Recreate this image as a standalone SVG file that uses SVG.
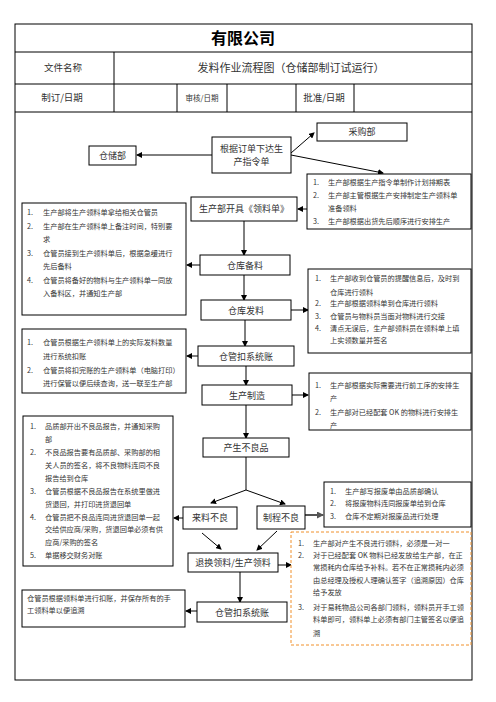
<svg xmlns="http://www.w3.org/2000/svg" width="496" height="702" viewBox="0 0 496 702">
<defs>
<marker id="ah" markerWidth="6" markerHeight="6" refX="5" refY="3" orient="auto" markerUnits="userSpaceOnUse"><path d="M0,0 L6,3 L0,6 Z" fill="#000"/></marker>
<marker id="ahg" markerWidth="7" markerHeight="7" refX="6" refY="3.5" orient="auto" markerUnits="userSpaceOnUse"><path d="M0,0 L7,3.5 L0,7 Z" fill="#555"/></marker>
<style>
text{font-family:"Noto Sans CJK SC","Noto Sans",sans-serif;fill:#333}
.b{fill:#fff;stroke:#000;stroke-width:1}
.n{font-size:9px;text-anchor:middle}
.t{font-size:7.2px}
.h{font-size:9.5px;text-anchor:middle}
.c{stroke:#000;stroke-width:1;fill:none;marker-end:url(#ah)}
</style>
</defs>
<rect width="496" height="702" fill="#fff"/>
<g id="frame">
<rect x="15" y="24" width="457" height="656" fill="none" stroke="#000" stroke-width="1"/>
<line x1="15" y1="52" x2="472" y2="52" stroke="#000"/>
<line x1="15" y1="84" x2="472" y2="84" stroke="#000"/>
<line x1="15" y1="112" x2="472" y2="112" stroke="#000"/>
<line x1="114" y1="52" x2="114" y2="112" stroke="#000"/>
<line x1="177" y1="84" x2="177" y2="112" stroke="#000"/>
<line x1="227" y1="84" x2="227" y2="112" stroke="#000"/>
<line x1="296" y1="84" x2="296" y2="112" stroke="#000"/>
<line x1="354" y1="84" x2="354" y2="112" stroke="#000"/>
<text x="243" y="44" style="font-size:16px;font-weight:bold;text-anchor:middle;fill:#000">有限公司</text>
<text x="63" y="71" class="h">文件名称</text>
<text x="291" y="72" style="font-size:11px;text-anchor:middle">发料作业流程图（仓储部制订试运行）</text>
<text x="62" y="101" class="h">制订/日期</text>
<text x="202" y="101" style="font-size:7.5px;text-anchor:middle">审核/日期</text>
<text x="324" y="101" class="h">批准/日期</text>
</g>
<g id="connectors">
<line x1="212" y1="155" x2="137" y2="155" class="c"/>
<line x1="291" y1="153" x2="314" y2="133" class="c"/>
<line x1="291" y1="155" x2="383" y2="173" class="c"/>
<line x1="307" y1="209" x2="298" y2="209" class="c"/>
<line x1="244" y1="221" x2="244" y2="255" class="c"/>
<line x1="200" y1="265" x2="187" y2="265" class="c"/>
<line x1="244" y1="275" x2="244" y2="300" class="c"/>
<line x1="291" y1="310" x2="308" y2="310" class="c"/>
<line x1="245" y1="320" x2="245" y2="346" class="c"/>
<line x1="198" y1="356" x2="187" y2="356" class="c"/>
<line x1="246" y1="366" x2="246" y2="385" class="c"/>
<line x1="292" y1="395" x2="308" y2="395" class="c"/>
<line x1="246" y1="405" x2="246" y2="438" class="c"/>
<line x1="246" y1="457" x2="246" y2="490" stroke="#000"/>
<line x1="246" y1="490" x2="211" y2="503" class="c"/>
<line x1="246" y1="490" x2="285" y2="504" class="c"/>
<line x1="183" y1="518" x2="174" y2="518" class="c"/>
<line x1="305" y1="515" x2="323" y2="515" stroke="#555" stroke-width="2" marker-end="url(#ahg)"/>
<line x1="202" y1="533" x2="221" y2="549" class="c"/>
<line x1="277" y1="531" x2="257" y2="550" class="c"/>
<line x1="278" y1="565" x2="291" y2="565" class="c"/>
<line x1="240" y1="572" x2="240" y2="602" class="c"/>
<line x1="197" y1="611" x2="186" y2="611" class="c"/>
</g>
<g id="n-cangchu"><rect x="89" y="146" width="47" height="19" class="b"/><text x="112.5" y="158.5" class="n">仓储部</text></g>
<g id="n-dingdan"><rect x="212" y="137" width="79" height="36" class="b"/><text x="251.5" y="152" class="n">根据订单下达生</text><text x="251.5" y="165" class="n">产指令单</text></g>
<g id="n-caigou"><rect x="317" y="123" width="90" height="18" class="b"/><text x="362" y="135" class="n">采购部</text></g>
<g id="n-r1"><rect x="307" y="174" width="164" height="55" class="b"/>
<text x="313" y="185" class="t">1.</text><text x="328" y="185" class="t">生产部根据生产指令单制作计划排期表</text>
<text x="313" y="198" class="t">2.</text><text x="328" y="198" class="t">生产部主管根据生产安排制定生产领料单</text>
<text x="328" y="211" class="t">准备领料</text>
<text x="313" y="224" class="t">3.</text><text x="328" y="224" class="t">生产部根据出货先后顺序进行安排生产</text></g>
<g id="n-kaiju"><rect x="191" y="197" width="106" height="24" class="b"/><text x="244" y="212" class="n">生产部开具《领料单》</text></g>
<g id="n-l1"><rect x="22" y="203" width="164" height="112" class="b"/>
<text x="27" y="215" class="t">1.</text><text x="43" y="215" class="t">生产部将生产领料单拿给相关仓管员</text>
<text x="27" y="229" class="t">2.</text><text x="43" y="229" class="t">生产部在生产领料单上备注时间，特别要</text>
<text x="43" y="242" class="t">求</text>
<text x="27" y="256" class="t">3.</text><text x="43" y="256" class="t">仓管员接到生产领料单后，根据急缓进行</text>
<text x="43" y="269" class="t">先后备料</text>
<text x="27" y="283" class="t">4.</text><text x="43" y="283" class="t">仓管员将备好的物料与生产领料单一同放</text>
<text x="43" y="296" class="t">入备料区，并通知生产部</text></g>
<g id="n-beiliao"><rect x="200" y="255" width="90" height="20" class="b"/><text x="245" y="268.5" class="n">仓库备料</text></g>
<g id="n-r2"><rect x="308" y="269" width="163" height="84" class="b"/>
<text x="315" y="281" class="t">1.</text><text x="330" y="281" class="t">生产部收到仓管员的提醒信息后，及时到</text>
<text x="330" y="295" class="t">仓库进行领料</text>
<text x="315" y="306" class="t">2.</text><text x="330" y="306" class="t">生产部根据领料单到仓库进行领料</text>
<text x="315" y="319" class="t">3.</text><text x="330" y="319" class="t">仓管员与物料员当面对物料进行交接</text>
<text x="315" y="331" class="t">4.</text><text x="330" y="331" class="t">清点无误后，生产部领料员在领料单上填</text>
<text x="330" y="343" class="t">上实领数量并签名</text></g>
<g id="n-faliao"><rect x="201" y="300" width="90" height="20" class="b"/><text x="246" y="313.5" class="n">仓库发料</text></g>
<g id="n-l2"><rect x="22" y="329" width="164" height="64" class="b"/>
<text x="27" y="345" class="t">1.</text><text x="43" y="345" class="t">仓管员根据生产领料单上的实际发料数量</text>
<text x="43" y="359" class="t">进行系统扣账</text>
<text x="27" y="373" class="t">2.</text><text x="43" y="373" class="t">仓管员将扣完账的生产领料单（电脑打印）</text>
<text x="43" y="386" class="t">进行保管以便后续查询，送一联至生产部</text></g>
<g id="n-kouzhang1"><rect x="198" y="346" width="96" height="20" class="b"/><text x="246" y="359.5" class="n">仓管扣系统账</text></g>
<g id="n-zhizao"><rect x="202" y="385" width="90" height="20" class="b"/><text x="247" y="398.5" class="n">生产制造</text></g>
<g id="n-r3"><rect x="309" y="373" width="162" height="57" class="b"/>
<text x="315" y="388" class="t">1.</text><text x="330" y="388" class="t">生产部根据实际需要进行前工序的安排生</text>
<text x="330" y="401" class="t">产</text>
<text x="315" y="415" class="t">2.</text><text x="330" y="415" class="t">生产部对已经配套 OK 的物料进行安排生</text>
<text x="330" y="428" class="t">产</text></g>
<g id="n-buliang"><rect x="203" y="438" width="86" height="19" class="b"/><text x="246" y="450.5" class="n">产生不良品</text></g>
<g id="n-l3"><rect x="23" y="416" width="150" height="150" class="b"/>
<text x="30" y="429" class="t">1.</text><text x="45" y="429" class="t">品质部开出不良品报告，并通知采购</text>
<text x="45" y="442" class="t">部</text>
<text x="30" y="455" class="t">2.</text><text x="45" y="455" class="t">不良品报告要有品质部、采购部的相</text>
<text x="45" y="468" class="t">关人员的签名，将不良物料连同不良</text>
<text x="45" y="481" class="t">报告给到仓库</text>
<text x="30" y="494" class="t">3.</text><text x="45" y="494" class="t">仓管员根据不良品报告在系统里做进</text>
<text x="45" y="507" class="t">货退回，并打印进货退回单</text>
<text x="30" y="520" class="t">4.</text><text x="45" y="520" class="t">仓管员把不良品连同进货退回单一起</text>
<text x="45" y="532" class="t">交给供应商/采购，货退回单必须有供</text>
<text x="45" y="545" class="t">应商/采购的签名</text>
<text x="30" y="558" class="t">5.</text><text x="45" y="558" class="t">单据移交财务对账</text></g>
<g id="n-lailiao"><rect x="183" y="507" width="54" height="22" class="b"/><text x="210" y="521" class="n">来料不良</text></g>
<g id="n-zhicheng"><rect x="257" y="506" width="48" height="23" class="b"/><text x="281" y="520.5" class="n">制程不良</text></g>
<g id="n-r4"><rect x="324" y="482" width="147" height="45" class="b"/>
<text x="330" y="494" class="t">1.</text><text x="345" y="494" class="t">生产部写报废单由品质部确认</text>
<text x="330" y="506" class="t">2.</text><text x="345" y="506" class="t">将报废物料连同报废单给到仓库</text>
<text x="330" y="519" class="t">3.</text><text x="345" y="519" class="t">仓库不定期对报废品进行处理</text></g>
<g id="n-tuihuan"><rect x="188" y="553" width="90" height="19" class="b"/><text x="233" y="566" class="n">退换领料/生产领料</text></g>
<g id="n-r5"><rect x="291" y="532" width="180" height="113" fill="#fff" stroke="#F0902A" stroke-width="1" stroke-dasharray="3,2"/>
<text x="298" y="546" class="t">1.</text><text x="313" y="546" class="t">生产部对产生不良进行领料，必须是一对一</text>
<text x="298" y="558" class="t">2.</text><text x="313" y="558" class="t">对于已经配套 OK 物料已经发放给生产部，在正</text>
<text x="313" y="570" class="t">常损耗内仓库给予补料。若不在正常损耗内必须</text>
<text x="313" y="583" class="t">由总经理及授权人理确认签字（追溯原因）仓库</text>
<text x="313" y="595" class="t">给予发放</text>
<text x="298" y="610" class="t">3.</text><text x="313" y="610" class="t">对于易耗物品公司各部门领料，领料员开手工领</text>
<text x="313" y="622" class="t">料单即可，领料单上必须有部门主管签名以便追</text>
<text x="313" y="636" class="t">溯</text></g>
<g id="n-kouzhang2"><rect x="197" y="602" width="90" height="20" class="b"/><text x="242" y="615.5" class="n">仓管扣系统账</text></g>
<g id="n-l4"><rect x="22" y="590" width="163" height="37" class="b"/>
<text x="27" y="601" class="t">仓管员根据领料单进行扣账，并保存所有的手</text>
<text x="27" y="613" class="t">工领料单以便追溯</text></g>
</svg>
